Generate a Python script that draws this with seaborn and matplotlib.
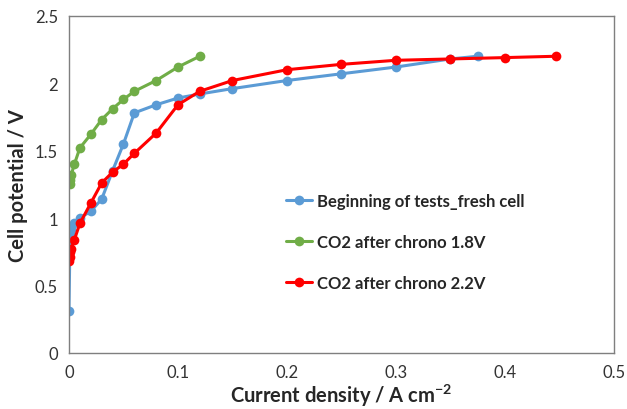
import matplotlib
matplotlib.use("Agg")
import matplotlib.pyplot as plt
import seaborn as sns
import pandas as pd

# valeurs
fresh_j = [0.0, 0.001, 0.002, 0.005, 0.01, 0.02, 0.03, 0.04, 0.05, 0.06, 0.08,
           0.1, 0.12, 0.15, 0.2, 0.25, 0.3, 0.35, 0.375]
fresh_v = [0.31, 0.88, 0.92, 0.96, 1.0, 1.05, 1.14, 1.35, 1.55, 1.78, 1.84,
           1.89, 1.92, 1.96, 2.02, 2.07, 2.12, 2.18, 2.20]

co2_18_j = [0.0005, 0.001, 0.002, 0.005, 0.01, 0.02, 0.03, 0.04, 0.05, 0.06,
            0.08, 0.1, 0.12]
co2_18_v = [1.25, 1.28, 1.32, 1.40, 1.52, 1.62, 1.73, 1.81, 1.88, 1.94,
            2.02, 2.12, 2.20]

co2_22_j = [0.0002, 0.0005, 0.001, 0.002, 0.005, 0.01, 0.02, 0.03, 0.04, 0.05,
            0.06, 0.08, 0.1, 0.12, 0.15, 0.2, 0.25, 0.3, 0.35, 0.4, 0.447]
co2_22_v = [0.68, 0.71, 0.75, 0.77, 0.84, 0.96, 1.11, 1.26, 1.34, 1.40,
            1.48, 1.63, 1.84, 1.94, 2.02, 2.10, 2.14, 2.17, 2.18, 2.19, 2.20]

labels = ["Beginning of tests_fresh cell", "CO2 after chrono 1.8V", "CO2 after chrono 2.2V"]
colors = ["#5B9BD5", "#70AD47", "#FF0000"]

sns.set_style("white")
plt.rcParams['font.family'] = ['Lato', 'DejaVu Sans']
plt.rcParams['mathtext.fontset'] = 'custom'
plt.rcParams['mathtext.rm'] = 'Lato'
plt.rcParams['mathtext.bf'] = 'Lato:bold'

fig = plt.figure(figsize=(6.27, 4.10), dpi=100)
ax = fig.add_axes([0.110, 0.137, 0.869, 0.822])

series = [(fresh_j, fresh_v), (co2_18_j, co2_18_v), (co2_22_j, co2_22_v)]
for (j, v), lab, col in zip(series, labels, colors):
    df = pd.DataFrame({'j': j, 'v': v})
    sns.lineplot(data=df, x='j', y='v', ax=ax, sort=False, color=col, label=lab,
                 marker='o', markersize=7, markeredgewidth=0, linewidth=2.2)

ax.set_xlim(0, 0.5)
ax.set_ylim(0, 2.5)
ax.set_xticks([0, 0.1, 0.2, 0.3, 0.4, 0.5])
ax.set_xticklabels(["0", "0.1", "0.2", "0.3", "0.4", "0.5"])
ax.set_yticks([0, 0.5, 1, 1.5, 2, 2.5])
ax.set_yticklabels(["0", "0.5", "1", "1.5", "2", "2.5"])
ax.tick_params(direction='in', length=5, width=1, color='#7f7f7f',
               labelsize=12, labelcolor='#333333')
ax.tick_params(axis='x', pad=8)
ax.tick_params(axis='y', pad=8)
for s in ax.spines.values():
    s.set_color('#7f7f7f')
    s.set_linewidth(1)

ax.set_xlabel(r"Current density / A cm$^{\mathbf{-2}}$", fontsize=14.5, fontweight='bold', labelpad=1)
ax.set_ylabel("Cell potential / V", fontsize=14.5, fontweight='bold', labelpad=5)

leg = ax.legend(loc='upper left', bbox_to_anchor=(0.37, 0.52), frameon=False,
                handlelength=1.6, handletextpad=0.3, labelspacing=1.5,
                prop={'weight': 'bold', 'size': 12})

fig.savefig("out.png", dpi=100)
